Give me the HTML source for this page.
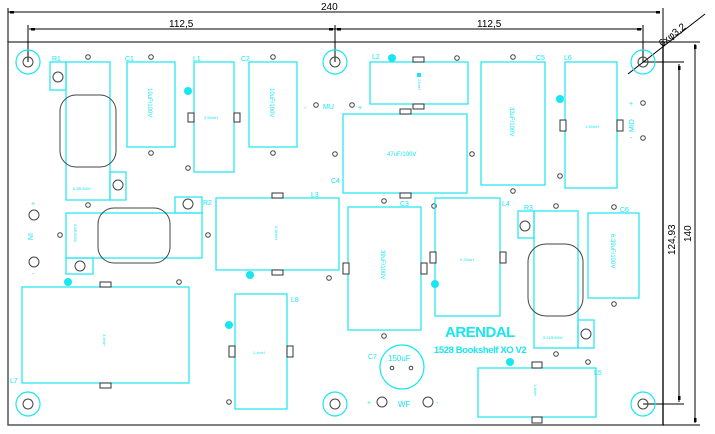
<!DOCTYPE html>
<html><head><meta charset="utf-8"><style>
html,body{margin:0;padding:0;background:#fff;width:715px;height:434px;overflow:hidden}
svg{display:block}
.c{fill:none;stroke:#19e6f0;stroke-width:1.2}
.g{fill:none;stroke:#444;stroke-width:1}
.b{fill:none;stroke:#000;stroke-width:1}
.t{fill:#19e6f0;font-family:"Liberation Sans",sans-serif;font-size:7px}
.s{fill:#19e6f0;font-family:"Liberation Sans",sans-serif;font-size:4px}
.m{fill:#19e6f0;font-family:"Liberation Sans",sans-serif;font-size:6px}
.d{fill:#000;font-family:"Liberation Sans",sans-serif;font-size:10px}
.dot{fill:#19e6f0}
.pad{fill:#fff;stroke:#333;stroke-width:1}
</style></head><body>
<svg width="715" height="434" viewBox="0 0 715 434">
<!-- board -->
<rect x="8" y="42" width="655" height="383" fill="none" stroke="#555" stroke-width="1.5"/>
<!-- dimensions -->
<g class="b">
<line x1="8" y1="8" x2="8" y2="42"/><line x1="663" y1="8" x2="663" y2="425"/>
<line x1="8" y1="12" x2="660" y2="12"/>
<line x1="28" y1="25" x2="28" y2="62"/><line x1="335" y1="25" x2="335" y2="62"/><line x1="643" y1="25" x2="643" y2="62"/>
<line x1="29" y1="29" x2="642" y2="29"/>
<line x1="643" y1="62" x2="684" y2="62"/><line x1="663" y1="42" x2="700" y2="42"/>
<line x1="643" y1="404" x2="684" y2="404"/><line x1="663" y1="425" x2="700" y2="425"/>
<line x1="679" y1="64" x2="679" y2="402"/><line x1="695" y1="44" x2="695" y2="423"/>
<line x1="628" y1="74" x2="705" y2="14"/>
</g>
<g fill="#000"><rect x="10" y="11" width="4" height="2.5"/><rect x="656" y="11" width="4" height="2.5"/>
<rect x="31" y="28" width="4" height="2.5"/><rect x="329" y="28" width="4" height="2.5"/><rect x="337" y="28" width="4" height="2.5"/><rect x="637" y="28" width="4" height="2.5"/>
<rect x="678" y="66" width="2.5" height="4"/><rect x="678" y="396" width="2.5" height="4"/><rect x="694" y="45" width="2.5" height="4"/><rect x="694" y="418" width="2.5" height="4"/></g>
<text class="d" x="321" y="10">240</text>
<text class="d" x="169" y="27">112,5</text>
<text class="d" x="477" y="27">112,5</text>
<text class="d" transform="translate(675,255) rotate(-90)">124,93</text>
<text class="d" transform="translate(691,242) rotate(-90)">140</text>
<text class="d" transform="translate(662,47) rotate(-38)">6xφ3,2</text>
<!-- holes -->
<g>
<circle class="c" cx="28" cy="62" r="12"/><circle class="g" cx="28" cy="62" r="5"/>
<circle class="c" cx="335" cy="62" r="12"/><circle class="g" cx="335" cy="62" r="5"/>
<circle class="c" cx="643" cy="62" r="12"/><circle class="g" cx="643" cy="62" r="5"/>
<circle class="c" cx="28" cy="404" r="12"/><circle class="g" cx="28" cy="404" r="5"/>
<circle class="c" cx="335" cy="404" r="12"/><circle class="g" cx="335" cy="404" r="5"/>
<circle class="c" cx="643" cy="404" r="12"/><circle class="g" cx="643" cy="404" r="5"/>
</g>
<!-- small holes -->
<g class="g">
<circle cx="88" cy="57" r="2.3"/><circle cx="151" cy="57" r="2.3"/><circle cx="151" cy="153" r="2.3"/>
<circle cx="188" cy="168" r="2.3"/><circle cx="273" cy="57" r="2.3"/><circle cx="273" cy="153" r="2.3"/>
<circle cx="316" cy="105" r="2.3"/><circle cx="352" cy="105" r="2.3"/><circle cx="457" cy="58" r="2.3"/>
<circle cx="335" cy="154" r="2.3"/><circle cx="472" cy="154" r="2.3"/><circle cx="513" cy="57" r="2.3"/><circle cx="513" cy="191" r="2.3"/>
<circle cx="560" cy="176" r="2.3"/><circle cx="643" cy="103" r="2.3"/><circle cx="643" cy="138" r="2.3"/>
<circle cx="88" cy="205" r="2.3"/><circle cx="60" cy="235" r="2.3"/><circle cx="208" cy="235" r="2.3"/>
<circle cx="329" cy="278" r="2.3"/><circle cx="179" cy="282" r="2.3"/><circle cx="229" cy="402" r="2.3"/>
<circle cx="384" cy="201" r="2.3"/><circle cx="384" cy="336" r="2.3"/><circle cx="434" cy="206" r="2.3"/>
<circle cx="556" cy="206" r="2.3"/><circle cx="556" cy="354" r="2.3"/><circle cx="614" cy="207" r="2.3"/><circle cx="614" cy="304" r="2.3"/>
<circle cx="588" cy="362" r="2.3"/><circle cx="392" cy="368" r="1.8"/><circle cx="411" cy="368" r="1.8"/>
<circle cx="34" cy="215" r="5"/><circle cx="34" cy="262" r="5"/><circle cx="382" cy="402" r="5"/><circle cx="428" cy="402" r="5"/>
</g>
<!-- R1 -->
<rect class="c" x="50" y="62" width="16" height="28"/><circle class="g" cx="58" cy="77" r="5"/>
<rect class="c" x="66" y="62" width="44" height="138"/>
<rect class="g" x="60" y="95" width="56" height="72" rx="16"/>
<rect class="c" x="110" y="172" width="16" height="28"/><circle class="g" cx="118" cy="185" r="5"/>
<text class="s" x="73" y="190">6.8R/50W</text><text class="t" x="52" y="61">R1</text>
<!-- C1 C2 -->
<rect class="c" x="127" y="62" width="48" height="85"/><text class="m" transform="translate(148,88) rotate(90)">10uF/100V</text><text class="t" x="125" y="61">C1</text>
<rect class="c" x="249" y="62" width="48" height="85"/><text class="m" transform="translate(270,88) rotate(90)">10uF/100V</text><text class="t" x="241" y="61">C2</text>
<!-- L1 -->
<rect class="c" x="194" y="62" width="40" height="110"/><circle class="dot" cx="188" cy="91" r="4"/>
<rect class="pad" x="188" y="113" width="6" height="9"/><rect class="pad" x="234" y="113" width="6" height="9"/>
<text class="s" x="204" y="119">0.56mH</text><text class="t" x="193" y="61">L1</text>
<text class="t" x="304" y="110">-</text><text class="t" x="323" y="109">MU</text><text class="t" x="358" y="110">+</text>
<!-- L2 -->
<rect class="c" x="370" y="62" width="98" height="42"/><circle class="dot" cx="392" cy="58" r="4"/>
<rect class="pad" x="413" y="57" width="11" height="5"/><rect class="pad" x="413" y="104" width="11" height="5"/>
<rect class="dot" x="417" y="73" width="4" height="4"/><text class="s" transform="translate(418,79) rotate(90)">22mH</text><text class="t" x="372" y="59">L2</text>
<!-- C4 -->
<rect class="c" x="343" y="114" width="124" height="79"/>
<rect class="pad" x="400" y="109" width="11" height="5"/><rect class="pad" x="400" y="193" width="11" height="5"/>
<text class="m" x="387" y="156">47uF/100V</text><text class="t" x="331" y="183">C4</text>
<!-- C5 -->
<rect class="c" x="481" y="62" width="64" height="123"/><text class="m" transform="translate(510,107) rotate(90)">33uF/100V</text><text class="t" x="536" y="60">C5</text>
<!-- L6 -->
<rect class="c" x="565" y="62" width="52" height="126"/><circle class="dot" cx="560" cy="99" r="4"/>
<rect class="pad" x="560" y="120" width="6" height="11"/><rect class="pad" x="617" y="120" width="6" height="11"/>
<text class="s" x="585" y="128">1.45mH</text><text class="t" x="564" y="60">L6</text>
<text class="t" x="629" y="106">+</text><text class="t" transform="translate(634,132) rotate(-90)">MID</text><text class="t" x="630" y="140">-</text>
<!-- IN -->
<text class="t" x="31" y="206">+</text><text class="t" transform="translate(28,233) rotate(90)">IN</text><text class="t" x="32" y="276">-</text>
<!-- R2 -->
<rect class="c" x="66" y="213" width="136" height="45"/>
<rect class="c" x="175" y="197" width="27" height="16"/><circle class="g" cx="188" cy="204" r="5"/>
<rect class="c" x="66" y="258" width="27" height="16"/><circle class="g" cx="80" cy="266" r="5"/>
<rect class="g" x="98" y="208" width="72" height="55" rx="16"/>
<text class="s" transform="translate(74,224) rotate(90)">6.8R/50W</text><text class="t" x="203" y="205">R2</text>
<!-- L3 -->
<rect class="c" x="216" y="198" width="123" height="72"/>
<rect class="pad" x="272" y="193" width="11" height="5"/><rect class="pad" x="272" y="270" width="11" height="5"/>
<circle class="dot" cx="250" cy="275" r="4"/><text class="s" transform="translate(275,226) rotate(90)">0.68mH</text><text class="t" x="311" y="197">L3</text>
<!-- L7 -->
<rect class="c" x="22" y="287" width="167" height="96"/>
<rect class="pad" x="100" y="282" width="11" height="5"/><rect class="pad" x="100" y="383" width="11" height="5"/>
<circle class="dot" cx="68" cy="282" r="4"/><text class="s" transform="translate(103,334) rotate(90)">3.3mH</text><text class="t" x="10" y="383">L7</text>
<!-- L8 -->
<rect class="c" x="235" y="294" width="52" height="115"/><circle class="dot" cx="229" cy="325" r="4"/>
<rect class="pad" x="229" y="346" width="6" height="11"/><rect class="pad" x="287" y="346" width="6" height="11"/>
<text class="s" x="253" y="354">1.4mH</text><text class="t" x="291" y="302">L8</text>
<!-- C3 -->
<rect class="c" x="348" y="207" width="73" height="123"/>
<rect class="pad" x="343" y="263" width="6" height="11"/><rect class="pad" x="421" y="263" width="6" height="11"/>
<text class="m" transform="translate(381,250) rotate(90)">39uF/100V</text><text class="t" x="400" y="206">C3</text>
<!-- L4 -->
<rect class="c" x="435" y="198" width="65" height="118"/>
<rect class="pad" x="430" y="252" width="6" height="11"/><rect class="pad" x="500" y="252" width="6" height="11"/>
<circle class="dot" cx="435" cy="284" r="4"/><text class="s" x="460" y="261">0.33mH</text><text class="t" x="502" y="206">L4</text>
<!-- R3 -->
<rect class="c" x="518" y="211" width="16" height="27"/><circle class="g" cx="525" cy="226" r="5"/>
<rect class="c" x="534" y="211" width="44" height="137"/>
<rect class="g" x="528" y="244" width="55" height="72" rx="18"/>
<rect class="c" x="578" y="320" width="16" height="28"/><circle class="g" cx="586" cy="334" r="5"/>
<text class="s" x="543" y="339">5.11R/50W</text><text class="t" x="524" y="210">R3</text>
<!-- C6 -->
<rect class="c" x="588" y="213" width="51" height="85"/><text class="m" transform="translate(611,234) rotate(90)">6.39uF/100V</text><text class="t" x="620" y="212">C6</text>
<!-- logo -->
<text x="445" y="337" style="fill:#19e6f0;font-family:'Liberation Sans',sans-serif;font-weight:bold;font-size:15px;letter-spacing:-0.5px">ARENDAL</text>
<text x="434" y="353" style="fill:#19e6f0;font-family:'Liberation Sans',sans-serif;font-weight:bold;font-size:9.5px;letter-spacing:-0.4px">1528 Bookshelf XO V2</text>
<!-- C7 -->
<circle class="c" cx="402" cy="367" r="22"/><text class="t" x="388" y="361" style="font-size:8px">150uF</text><text class="t" x="368" y="359">C7</text>
<text class="t" x="367" y="405">+</text><text class="t" x="398" y="407" style="font-size:8px">WF</text><text class="t" x="436" y="405">-</text>
<!-- L5 -->
<rect class="c" x="478" y="368" width="118" height="49"/>
<rect class="pad" x="532" y="362" width="10" height="6"/><rect class="pad" x="532" y="417" width="10" height="6"/>
<circle class="dot" cx="510" cy="362" r="4"/><text class="s" transform="translate(534,384) rotate(90)">1.6mH</text><text class="t" x="594" y="375">L5</text>
</svg>
</body></html>
